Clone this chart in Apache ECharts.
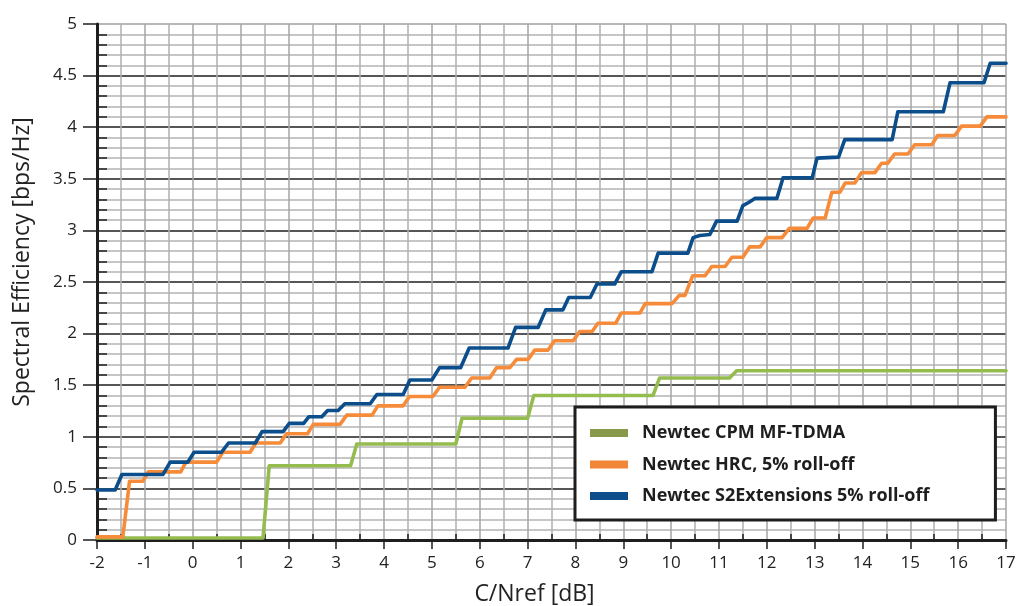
<!DOCTYPE html>
<html>
<head>
<meta charset="utf-8">
<script src="https://cdn.jsdelivr.net/npm/echarts@6/dist/echarts.min.js"></script>
<style>
	html, body { margin: 0; padding: 0; background: #fff; }
	#main { width: 1018px; height: 606px; }
</style>
</head>
<body>
<div id="main"></div>
<script>
// 曲线数据 [C/Nref dB, bps/Hz]
var seriesNames = ['Newtec CPM MF-TDMA', 'Newtec HRC, 5% roll-off', 'Newtec S2Extensions 5% roll-off'];

var cpmData = [
	[-2, 0.02], [1.47, 0.02], [1.6, 0.72], [3.3, 0.72], [3.43, 0.93], [5.5, 0.93], [5.63, 1.18],
	[7.0, 1.18], [7.13, 1.40], [9.62, 1.40], [9.76, 1.57], [11.22, 1.57], [11.37, 1.64], [17, 1.64]
];

var hrcData = [
	[-2, 0.03], [-1.46, 0.03], [-1.32, 0.57], [-1.04, 0.57], [-0.93, 0.66], [-0.25, 0.66], [-0.14, 0.755],
	[0.5, 0.755], [0.63, 0.85], [1.2, 0.85], [1.32, 0.94], [1.83, 0.94], [1.96, 1.03], [2.4, 1.03],
	[2.52, 1.12], [3.08, 1.12], [3.22, 1.21], [3.75, 1.21], [3.87, 1.30], [4.4, 1.30], [4.53, 1.39],
	[5.02, 1.39], [5.16, 1.48], [5.69, 1.48], [5.83, 1.57], [6.21, 1.57], [6.35, 1.67], [6.63, 1.67],
	[6.77, 1.75], [7.01, 1.75], [7.15, 1.84], [7.43, 1.84], [7.56, 1.93], [7.95, 1.93], [8.09, 2.02],
	[8.35, 2.02], [8.47, 2.10], [8.84, 2.10], [8.96, 2.20], [9.35, 2.20], [9.46, 2.29], [10.02, 2.29],
	[10.17, 2.37], [10.29, 2.37], [10.45, 2.56], [10.71, 2.56], [10.85, 2.65], [11.13, 2.65],
	[11.27, 2.74], [11.5, 2.74], [11.64, 2.84], [11.86, 2.84], [12.0, 2.93], [12.32, 2.93],
	[12.47, 3.02], [12.84, 3.02], [12.97, 3.12], [13.22, 3.12], [13.36, 3.37], [13.53, 3.37],
	[13.64, 3.46], [13.84, 3.46], [13.98, 3.56], [14.26, 3.56], [14.4, 3.65], [14.53, 3.65],
	[14.67, 3.74], [14.95, 3.74], [15.09, 3.83], [15.45, 3.83], [15.57, 3.92], [15.93, 3.92],
	[16.07, 4.01], [16.46, 4.01], [16.6, 4.10], [17, 4.10]
];

var s2xData = [
	[-2, 0.485], [-1.62, 0.485], [-1.48, 0.635], [-0.62, 0.635], [-0.47, 0.755], [-0.1, 0.755],
	[0.03, 0.85], [0.6, 0.85], [0.75, 0.94], [1.31, 0.94], [1.45, 1.05], [1.89, 1.05], [2.02, 1.13],
	[2.32, 1.13], [2.43, 1.195], [2.7, 1.195], [2.82, 1.255], [3.04, 1.255], [3.18, 1.32], [3.71, 1.32],
	[3.85, 1.41], [4.4, 1.41], [4.54, 1.55], [5.0, 1.55], [5.16, 1.67], [5.6, 1.67], [5.78, 1.86],
	[6.59, 1.86], [6.75, 2.06], [7.22, 2.06], [7.38, 2.23], [7.74, 2.23], [7.86, 2.35], [8.31, 2.35],
	[8.45, 2.48], [8.82, 2.48], [8.96, 2.6], [9.6, 2.6], [9.73, 2.78], [10.35, 2.78], [10.46, 2.93],
	[10.6, 2.95], [10.81, 2.96], [10.95, 3.09], [11.38, 3.09], [11.5, 3.24], [11.62, 3.27],
	[11.75, 3.31], [12.21, 3.31], [12.34, 3.51], [12.95, 3.51], [13.05, 3.70], [13.5, 3.71],
	[13.63, 3.88], [14.62, 3.88], [14.74, 4.15], [15.69, 4.15], [15.83, 4.43], [16.54, 4.43],
	[16.67, 4.62], [17, 4.62]
];

var lineColors = ['#95bc4e', '#f68b3a', '#0b4e8b'];
var legendColors = ['#869a4a', '#f08636', '#0b4e8b'];

var fontName = '"Open Sans", Lato, sans-serif';

var myChart = echarts.init(document.getElementById('main'));

// 主刻度线: 0.5 一条黑线, 最上面一条灰色
var ySplitColors = [];
for (var i = 0; i < 10; i++) {
	ySplitColors.push('#1e1e1e');
}
ySplitColors.push('#a0a0a0');

function makeSeries(idx, data) {
	return {
		name : seriesNames[idx],
		type : 'line',
		data : data,
		symbol : 'none',
		smooth : false,
		lineStyle : {
			color : lineColors[idx],
			width : 3.6,
			cap : 'round',
			join : 'round'
		},
		itemStyle : {
			color : lineColors[idx]
		}
	};
}

var option = {
	animation : false,
	backgroundColor : '#fff',
	grid : {
		left : 97,
		right : 12,
		top : 24,
		bottom : 66,
		outerBoundsMode : 'none',
		containLabel : false
	},
	legend : {
		orient : 'vertical',
		left : 575,
		top : 407,
		padding : [17, 66, 15, 15],
		itemGap : 13.5,
		itemWidth : 38,
		itemHeight : 8,
		icon : 'rect',
		borderColor : '#1e1e1e',
		borderWidth : 3,
		backgroundColor : '#fff',
		textStyle : {
			fontFamily : fontName,
			fontWeight : 'bold',
			fontSize : 18,
			color : '#1e1e1e',
			padding : [0, 0, 0, 9]
		},
		data : [
			{ name : seriesNames[0], itemStyle : { color : legendColors[0] } },
			{ name : seriesNames[1], itemStyle : { color : legendColors[1] } },
			{ name : seriesNames[2], itemStyle : { color : legendColors[2] } }
		]
	},
	xAxis : {
		type : 'value',
		min : -2,
		max : 17,
		interval : 1,
		name : 'C/Nref [dB]',
		nameLocation : 'middle',
		nameGap : 43,
		nameTextStyle : {
			fontFamily : fontName,
			fontSize : 23,
			color : '#222',
			padding : [0, 34, 0, 0]
		},
		axisLine : {
			show : true,
			onZero : false,
			lineStyle : {
				color : '#1e1e1e',
				width : 3
			}
		},
		axisTick : {
			show : true,
			length : 9,
			lineStyle : {
				color : '#1e1e1e',
				width : 1.5
			}
		},
		minorTick : {
			show : true,
			splitNumber : 2,
			length : -6,
			lineStyle : {
				color : '#1e1e1e',
				width : 1.5
			}
		},
		axisLabel : {
			margin : 15,
			fontFamily : fontName,
			fontSize : 17,
			color : '#222'
		},
		splitLine : {
			show : true,
			lineStyle : {
				color : '#a4a4a4',
				width : 1.5
			}
		},
		minorSplitLine : {
			show : true,
			lineStyle : {
				color : '#b0b0b0',
				width : 1.5
			}
		}
	},
	yAxis : {
		type : 'value',
		min : 0,
		max : 5,
		interval : 0.5,
		name : 'Spectral Efficiency [bps/Hz]',
		nameLocation : 'middle',
		nameGap : 63,
		nameTextStyle : {
			fontFamily : fontName,
			fontSize : 23,
			color : '#222',
			padding : [0, 0, 0, 40]
		},
		axisLine : {
			show : true,
			onZero : false,
			lineStyle : {
				color : '#1e1e1e',
				width : 3
			}
		},
		axisTick : {
			show : true,
			length : 14,
			lineStyle : {
				color : '#1e1e1e',
				width : 1.5
			}
		},
		minorTick : {
			show : true,
			splitNumber : 5,
			length : -10,
			lineStyle : {
				color : '#1e1e1e',
				width : 1.5
			}
		},
		axisLabel : {
			margin : 20,
			fontFamily : fontName,
			fontSize : 17,
			color : '#222'
		},
		splitLine : {
			show : true,
			lineStyle : {
				color : ySplitColors,
				width : 1.5
			}
		},
		minorSplitLine : {
			show : true,
			lineStyle : {
				color : '#c6c6c6',
				width : 2
			}
		}
	},
	series : [
		makeSeries(0, cpmData),
		makeSeries(1, hrcData),
		makeSeries(2, s2xData)
	]
};
myChart.setOption(option);
</script>
</body>
</html>
